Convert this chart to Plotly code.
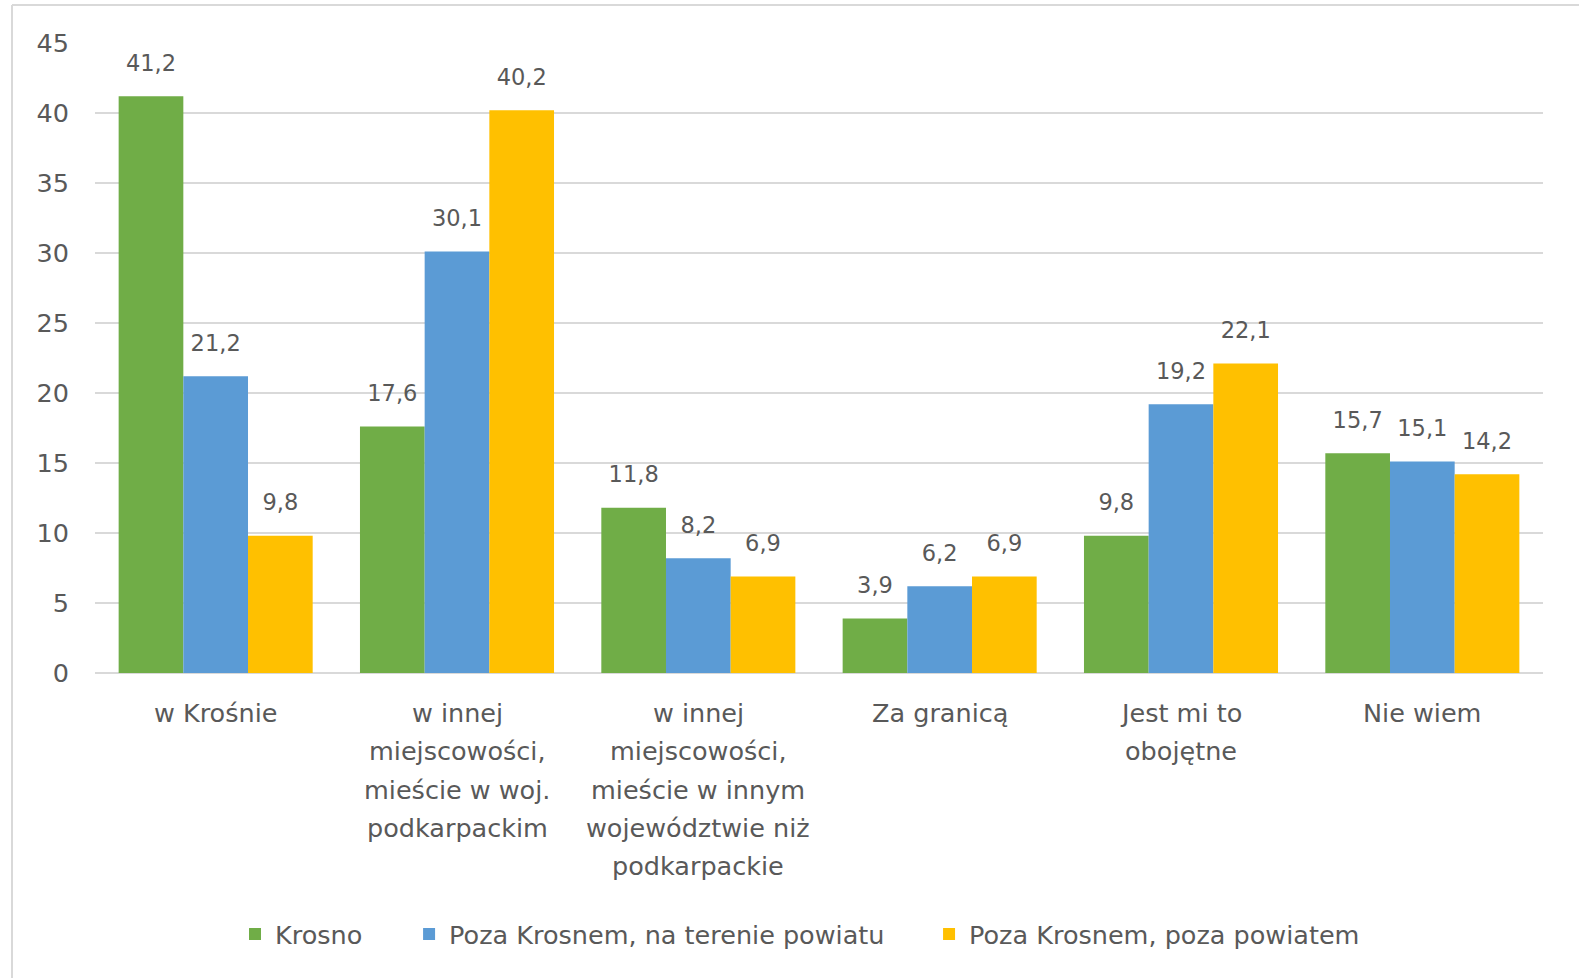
import plotly.graph_objects as go

categories = ["w Krośnie",
              "w innej<br>miejscowości,<br>mieście w woj.<br>podkarpackim",
              "w innej<br>miejscowości,<br>mieście w innym<br>województwie niż<br>podkarpackie",
              "Za granicą",
              "Jest mi to<br>obojętne",
              "Nie wiem"]
series_names = ["Krosno", "Poza Krosnem, na terenie powiatu", "Poza Krosnem, poza powiatem"]
krosno = [41.2, 17.6, 11.8, 3.9, 9.8, 15.7]
powiat = [21.2, 30.1, 8.2, 6.2, 19.2, 15.1]
poza = [9.8, 40.2, 6.9, 6.9, 22.1, 14.2]
y_ticks = [0, 5, 10, 15, 20, 25, 30, 35, 40, 45]

colors = ["#70AD47", "#5B9BD5", "#FFC000"]
FONT = "DejaVu Sans"
TXT = "#595959"

W, H = 1579, 978
L, R, T, B = 95, 36, 43, 305
PW, PH = W - L - R, H - T - B

legend_ids = ["legend", "legend2", "legend3"]
legend_x = [0.0967, 0.2169, 0.5760]

fig = go.Figure()
for name, vals, col, g, lg in zip(series_names, [krosno, powiat, poza], colors, ["a", "b", "c"], legend_ids):
    fig.add_trace(go.Bar(x=list(range(len(categories))), y=vals, name=name, marker_color=col,
                         marker_line_width=0, offsetgroup=g, legend=lg))
for name, vals, g in zip(series_names, [krosno, powiat, poza], ["a", "b", "c"]):
    fig.add_trace(go.Scatter(x=list(range(len(categories))), y=vals, mode="markers+text",
                             text=[f"{v:.1f}".replace(".", ",") for v in vals],
                             textposition="top center",
                             textfont=dict(family=FONT, size=22.5, color=TXT),
                             marker=dict(size=30, opacity=0), offsetgroup=g,
                             showlegend=False, hoverinfo="skip", cliponaxis=False))

for i, cat in enumerate(categories):
    for j, line in enumerate(cat.split("<br>")):
        fig.add_annotation(x=i, y=0, xref="x", yref="paper", text=line, showarrow=False,
                           yanchor="middle", yshift=-40 - j * 38.3,
                           font=dict(family=FONT, size=25.5, color=TXT))

leg_common = dict(orientation="h", y=-0.415, yanchor="middle", xanchor="left",
                  font=dict(family=FONT, size=25.5, color=TXT), bgcolor="rgba(0,0,0,0)")
legends = {lg: dict(x=lx, **leg_common) for lg, lx in zip(legend_ids, legend_x)}

fig.update_layout(
    width=W, height=H,
    margin=dict(l=L, r=R, t=T, b=B),
    paper_bgcolor="white", plot_bgcolor="white",
    barmode="group", bargap=0.196, bargroupgap=0,
    scattermode="group",
    font=dict(family=FONT, color=TXT),
    showlegend=True,
    **legends,
)
fig.update_xaxes(range=[-0.5, len(categories) - 0.5], showticklabels=False, showgrid=False,
                 zeroline=False, showline=False, ticks="", automargin=False)
fig.update_yaxes(range=[0, 45], tickvals=y_ticks, showgrid=True, gridcolor="#D9D9D9", gridwidth=2,
                 zeroline=True, zerolinecolor="#D9D9D9", zerolinewidth=2,
                 tickfont=dict(family=FONT, size=25.5, color=TXT), ticks="", ticklabelstandoff=25,
                 showline=False, automargin=False)

# outer chart frame (left and top edges)
bx = (12 - L) / PW
by = 1 + (T - 5) / PH
fig.add_shape(type="line", xref="paper", yref="paper", x0=bx, x1=bx, y0=-0.6, y1=by,
              line=dict(color="#D9D9D9", width=2))
fig.add_shape(type="line", xref="paper", yref="paper", x0=bx, x1=1.1, y0=by, y1=by,
              line=dict(color="#D9D9D9", width=2))

fig.write_html("out.html", config={"displayModeBar": False},
               post_script="document.body.style.margin='0';document.body.style.overflow='hidden';")
